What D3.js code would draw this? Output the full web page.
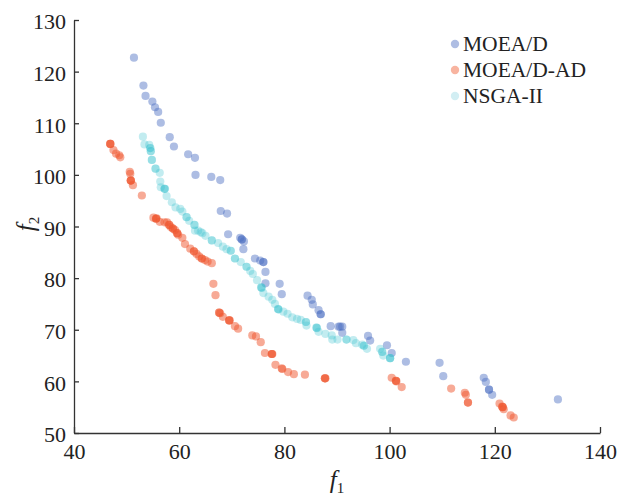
<!DOCTYPE html>
<html>
<head>
<meta charset="utf-8">
<script src="https://cdn.jsdelivr.net/npm/d3@7"></script>
<style>
  html, body { margin: 0; padding: 0; background: #fff; }
  svg { display: block; }
  text { font-family: "Liberation Serif", "Times New Roman", serif; fill: #222; }
</style>
</head>
<body>
<svg id="chart" width="626" height="500"></svg>
<script>
// ---------------- data ----------------
const seriesNames = ["MOEA/D", "MOEA/D-AD", "NSGA-II"];
const xTicks = [40, 60, 80, 100, 120, 140];
const yTicks = [50, 60, 70, 80, 90, 100, 110, 120, 130];

// [f1, f2] (overlapping solutions repeated)
const moead = [
  [51.4,122.7],[53.2,117.3],[53.6,115.3],[54.9,114.2],[55.4,113.1],[56.0,112.2],[56.5,110.1],
  [58.2,107.3],[59.0,105.5],[61.7,104.0],[63.0,103.3],[63.1,100.0],[66.1,99.6],[67.8,99.0],
  [67.9,93.0],[69.1,92.5],[69.3,88.5],[71.6,87.8],[71.9,87.5],[71.9,87.5],[72.3,87.1],[72.2,85.6],
  [74.4,83.8],[75.4,83.4],[76.0,83.1],[76.0,83.1],[76.4,81.2],[76.4,79.0],[79.1,78.9],[79.5,76.9],
  [84.4,76.6],[85.2,75.8],[85.4,74.9],[86.5,73.8],[86.9,73.0],[86.9,73.0],[88.8,70.7],[90.3,70.6],
  [90.6,70.6],[91.0,70.6],[91.0,69.4],[95.9,68.8],[96.3,67.9],[99.5,67.0],[100.4,65.5],[103.1,63.8],
  [109.5,63.6],[110.2,61.0],[117.9,60.7],[118.3,59.9],[118.9,58.4],[118.9,58.4],[119.5,57.4],[132.0,56.5]
];
const moeadAd = [
  [46.9,106.0],[46.9,106.0],[46.9,106.0],[47.5,104.8],[48.0,104.1],[48.6,103.8],[48.8,103.4],
  [50.6,100.6],[50.7,100.2],[50.8,98.9],[50.8,98.9],[50.8,98.9],[51.2,98.0],[52.9,96.0],
  [55.1,91.7],[55.6,91.5],[55.6,91.5],[55.7,91.6],[56.3,90.9],[57.2,90.8],[57.7,90.8],[58.1,90.3],
  [58.1,90.3],[58.4,89.9],[58.8,89.6],[58.8,89.6],[59.2,89.3],[59.6,88.7],[59.6,88.7],[59.8,88.4],
  [60.6,87.8],[61.1,86.6],[62.1,85.7],[62.8,85.2],[62.8,85.2],[63.3,84.7],[63.8,84.2],[64.3,83.8],
  [64.3,83.8],[64.9,83.5],[65.4,83.2],[66.2,82.9],[66.5,78.9],[66.9,76.7],[67.6,73.3],[67.6,73.3],
  [67.8,73.2],[68.3,72.5],[69.5,71.8],[69.5,71.8],[69.6,71.8],[70.6,70.7],[71.2,70.2],[73.9,68.9],
  [74.6,68.7],[75.5,67.6],[76.3,65.5],[77.6,65.3],[77.6,65.3],[77.7,65.3],[78.3,63.2],[79.5,62.5],
  [79.6,62.4],[80.7,61.8],[81.8,61.4],[83.9,61.3],[87.7,60.6],[87.7,60.6],[87.8,60.6],[100.4,60.7],
  [101.2,60.1],[101.2,60.1],[101.3,60.0],[102.3,58.9],[111.7,58.6],[114.3,57.8],[114.5,57.4],
  [114.9,55.9],[114.9,55.9],[120.9,55.7],[121.4,55.1],[121.5,55.0],[121.5,55.0],[121.7,54.6],
  [123.0,53.4],[123.6,53.0]
];
const nsga2 = [
  [53.1,107.4],[53.4,105.9],[54.3,105.8],[54.5,105.2],[54.5,105.2],[54.6,104.6],[54.6,104.6],
  [54.8,102.9],[54.8,102.9],[55.5,101.2],[55.5,101.2],[56.3,100.4],[56.4,98.7],[56.5,97.6],
  [57.2,97.3],[57.2,97.3],[57.3,97.3],[57.6,95.9],[58.6,94.7],[59.3,93.7],[60.2,93.4],[60.6,92.9],
  [61.4,91.8],[61.4,91.8],[61.9,91.1],[62.9,90.3],[62.9,90.3],[63.0,89.2],[63.6,89.2],[64.1,88.9],
  [64.4,88.7],[65.0,88.2],[66.2,87.3],[66.2,87.3],[67.4,86.8],[68.3,86.1],[69.0,85.6],[69.8,85.3],
  [69.8,85.3],[70.6,83.8],[70.6,83.8],[71.7,83.1],[72.8,82.2],[72.8,82.2],[73.5,81.4],[74.0,80.8],
  [74.8,79.6],[75.6,78.2],[75.6,78.2],[75.7,78.1],[76.0,77.1],[77.0,76.4],[77.7,75.8],[78.2,75.0],
  [78.8,74.0],[78.8,74.0],[78.9,73.9],[79.8,73.5],[80.6,73.1],[81.5,72.4],[82.4,72.1],[83.1,71.9],
  [84.1,71.5],[84.1,71.5],[84.2,70.8],[86.1,70.4],[86.1,70.4],[86.2,70.3],[86.5,69.6],[87.8,69.2],
  [89.0,68.9],[89.1,68.1],[90.1,68.1],[91.8,68.1],[91.8,68.1],[93.1,68.0],[93.6,67.4],[94.8,67.1],
  [95.1,66.9],[95.1,66.9],[95.7,66.3],[98.2,66.3],[98.6,65.7],[98.6,65.7],[98.8,65.0],[100.1,64.5],
  [100.1,64.5],[100.1,64.5]
];

// ---------------- styles ----------------
const colors = ["#4a6cc0", "#f0562e", "#36bfcd"];
const opac = [0.45, 0.5, 0.3];
const legendColors = ["#aebde3", "#f8b4a0", "#d2eef3"];

const svg = d3.select("#chart");
const x = d3.scaleLinear().domain([40, 140]).range([74, 600]);
const y = d3.scaleLinear().domain([50, 130]).range([433, 20]);

// axes
const xAxis = svg.append("g").attr("transform", "translate(0,433)")
  .call(d3.axisBottom(x).tickValues(xTicks).tickSizeInner(-6).tickSizeOuter(0).tickPadding(9));
const yAxis = svg.append("g").attr("transform", "translate(74,0)")
  .call(d3.axisLeft(y).tickValues(yTicks).tickSizeInner(-5).tickSizeOuter(0).tickPadding(8));
[xAxis, yAxis].forEach(g => {
  g.select(".domain").attr("stroke", "#333").attr("stroke-width", 1.3);
  g.selectAll(".tick line").attr("stroke", "#333").attr("stroke-width", 1.3);
  g.selectAll(".tick text").attr("font-size", 22).attr("fill", "#222")
    .style("font-family", '"Liberation Serif", "Times New Roman", serif');
});
xAxis.selectAll(".tick text").attr("dy", "0.75em");
yAxis.selectAll(".tick text").attr("dy", "0.4em");

// points
const all = [moead, moeadAd, nsga2];
all.forEach((data, i) => {
  svg.append("g").selectAll("circle").data(data).join("circle")
    .attr("cx", d => x(d[0])).attr("cy", d => y(d[1])).attr("r", 4.1)
    .attr("fill", colors[i]).attr("fill-opacity", opac[i]);
});

// axis titles
const xt = svg.append("text").attr("x", 337).attr("y", 488).attr("text-anchor", "middle")
  .attr("font-size", 25);
xt.append("tspan").attr("font-style", "italic").text("f");
xt.append("tspan").attr("font-size", 15).attr("dy", 5).text("1");

const yt = svg.append("text").attr("transform", "translate(34,224) rotate(-90)")
  .attr("text-anchor", "middle").attr("font-size", 25);
yt.append("tspan").attr("font-style", "italic").text("f");
yt.append("tspan").attr("font-size", 15).attr("dy", 5).text("2");

// legend
const leg = svg.append("g");
seriesNames.forEach((name, i) => {
  const by = 50.5 + i * 26;
  leg.append("circle").attr("cx", 455).attr("cy", by - 6.5).attr("r", 4.2).attr("fill", legendColors[i]);
  leg.append("text").attr("x", 463).attr("y", by).attr("font-size", 21.5).text(name);
});
</script>
</body>
</html>
